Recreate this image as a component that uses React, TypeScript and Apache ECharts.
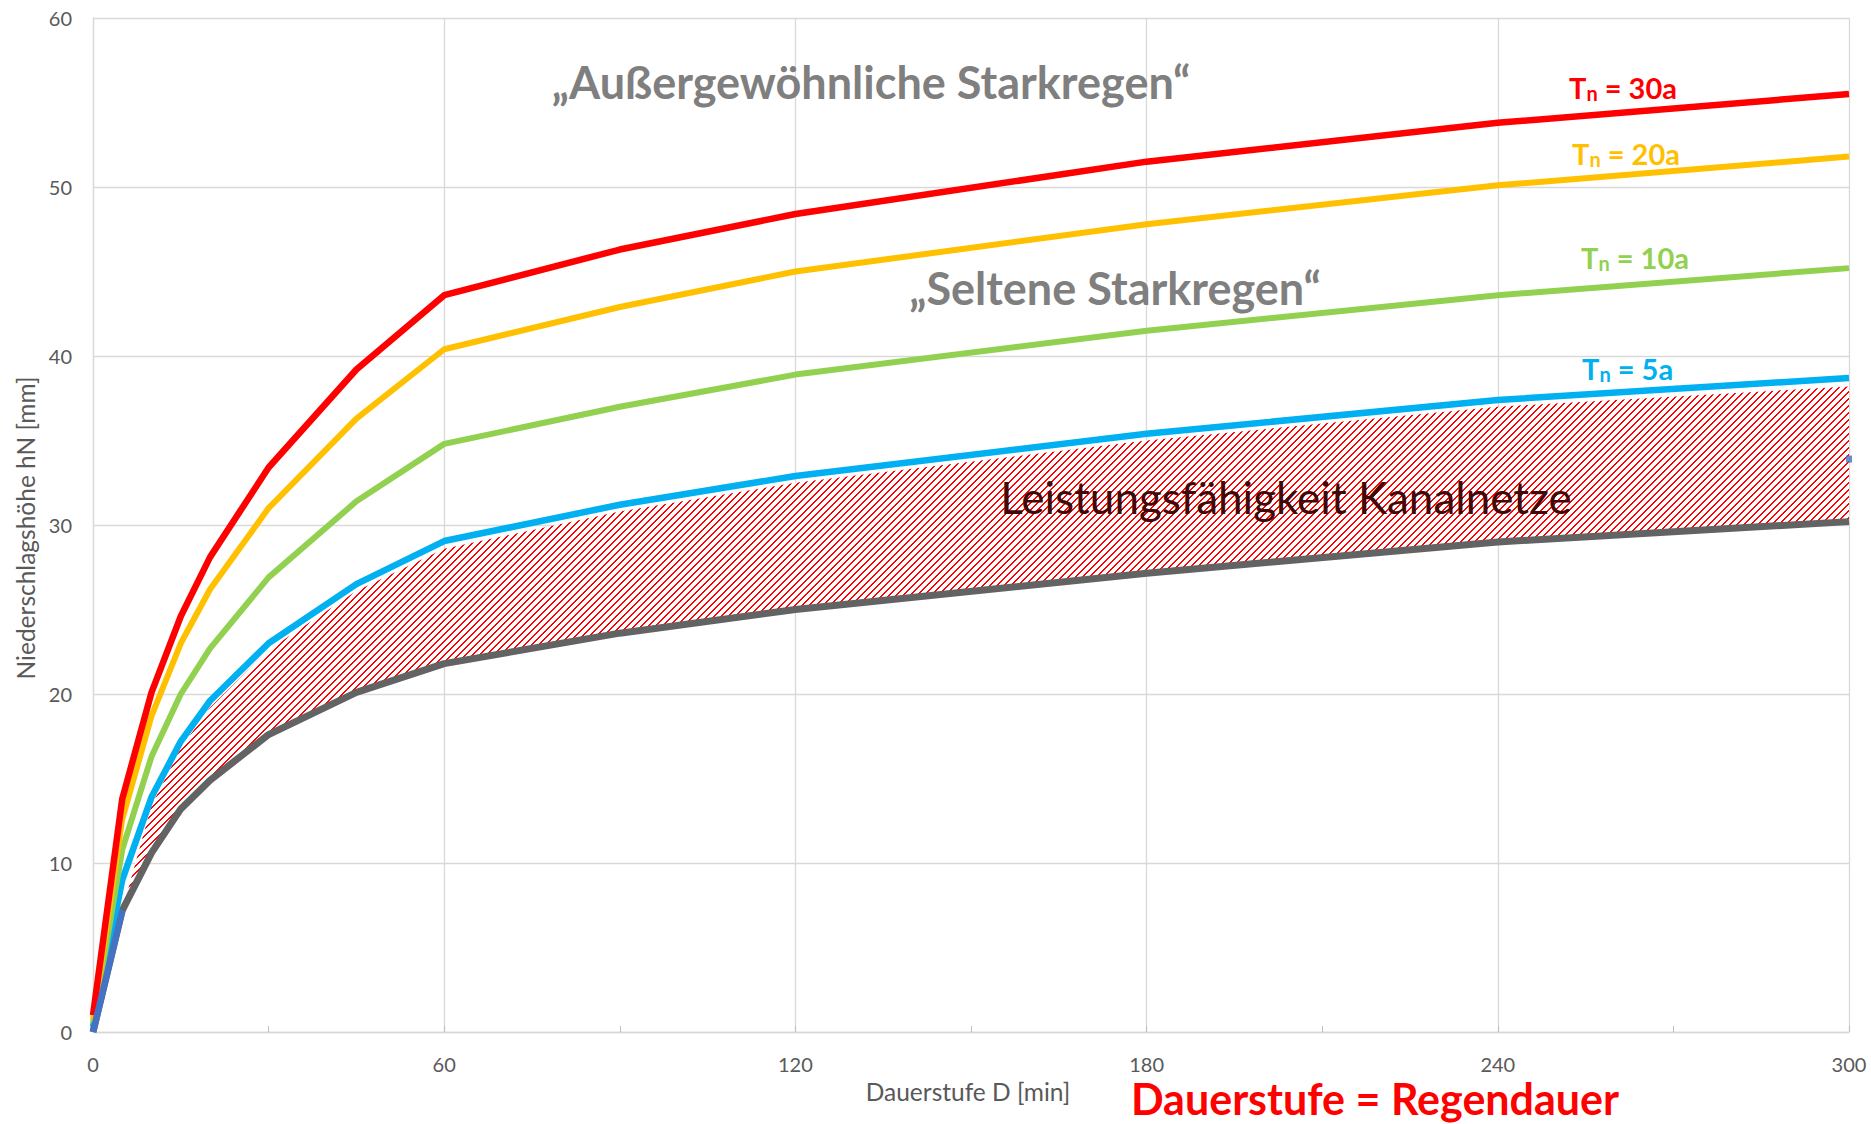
import React, { useEffect, useRef } from 'react';
import * as echarts from 'echarts';

// Dauerstufe D [min]
const durations = [0, 5, 10, 15, 20, 30, 45, 60, 90, 120, 180, 240, 300];
// Niederschlagshöhe hN [mm] per Wiederkehrzeit
const tn30 = [1.0, 13.8, 20.1, 24.6, 28.1, 33.4, 39.2, 43.6, 46.3, 48.4, 51.5, 53.8, 55.5];
const tn20 = [0.7, 12.6, 18.7, 23.0, 26.2, 31.0, 36.3, 40.4, 42.9, 45.0, 47.8, 50.1, 51.8];
const tn10 = [0.5, 10.8, 16.3, 20.0, 22.7, 26.9, 31.4, 34.8, 37.0, 38.9, 41.5, 43.6, 45.2];
const tn5 = [0.3, 9.0, 13.9, 17.2, 19.6, 23.0, 26.5, 29.05, 31.2, 32.9, 35.4, 37.4, 38.7];
// Leistungsfähigkeit Kanalnetze (untere Grenze)
const kanalnetz = [0, 7.2, 10.6, 13.2, 14.9, 17.6, 20.1, 21.8, 23.6, 25.0, 27.15, 29.0, 30.2];
// Schraffur: Dauerstufen und obere Kante (ab D = 5 min)
const hatchDurations = [5, 10, 15, 20, 30, 45, 60, 90, 120, 180, 240, 300];
const hatchTop = [7.2, 13.4, 16.8, 19.2, 22.6, 26.1, 28.6, 30.8, 32.5, 35.0, 37.0, 38.2];
// Anfangssegment (dunkelblau)
const startDurations = [0, 5];
const startValues = [0, 7.2];
// Einzelner Markerpunkt am rechten Rand
const markerDurations = [300];
const markerValues = [33.9];

const xMin = 0, xMax = 300, xInterval = 60;
const yMin = 0, yMax = 60, yInterval = 10;

const FONT = 'Lato';

function pairs(xs: number[], ys: number[]) {
  return xs.map((x, i) => [x, ys[i]]);
}

function makeHatch() {
  const s = 7;
  const c = document.createElement('canvas');
  c.width = s;
  c.height = s;
  const ctx = c.getContext('2d')!;
  ctx.fillStyle = '#ffffff';
  ctx.fillRect(0, 0, s, s);
  ctx.fillStyle = '#ff0000';
  for (let i = 0; i < s; i++) {
    ctx.fillRect(i, s - 1 - i, 1, 1);
    ctx.fillRect(i, (s - i) % s, 1, 1);
  }
  return { image: c, repeat: 'repeat', imageWidth: s, imageHeight: s };
}

function tnLabel(id: string, x: number, y: number, value: string, color: string) {
  const main = { fontSize: 29, fontWeight: 'bold', fontFamily: FONT, fill: color };
  const sub = { fontSize: 20, fontWeight: 'bold', fontFamily: FONT, fill: color, padding: [12, 0, 0, 0] };
  return {
    type: 'text',
    id,
    x,
    y,
    z: 100,
    style: {
      text: '{m|T}{s|n}{m| = ' + value + '}',
      rich: { m: main, s: sub },
      align: 'left',
      verticalAlign: 'middle',
      textAlign: 'left',
      textVerticalAlign: 'middle',
    },
  };
}

function bigText(id: string, x: number, y: number, text: string, size: number, weight: string, color: string, lineHeight?: number) {
  const style: any = {
    text,
    fontSize: size,
    fontWeight: weight,
    fontFamily: FONT,
    fill: color,
    align: 'center',
    verticalAlign: 'middle',
    textAlign: 'center',
    textVerticalAlign: 'middle',
  };
  if (lineHeight) style.lineHeight = lineHeight;
  return { type: 'text', id, x, y, z: 100, style };
}

export default function App() {
  const ref = useRef<HTMLDivElement>(null);
  useEffect(() => {
    if (!ref.current) return;
    const chart = echarts.init(ref.current, null, { renderer: 'svg' });
    const hatch = makeHatch();
    const bandBase = hatchDurations.map((d) => kanalnetz[durations.indexOf(d)]);

    const lineSeries = (name: string, ys: number[], color: string, width: number) => ({
      type: 'line',
      name,
      data: pairs(durations, ys),
      symbol: 'none',
      lineStyle: { color, width, cap: 'butt', join: 'round' },
      itemStyle: { color },
      silent: true,
    });

    chart.setOption({
      animation: false,
      backgroundColor: '#ffffff',
      grid: { left: 93, right: 22, top: 18, bottom: 92 },
      xAxis: {
        type: 'value',
        min: xMin,
        max: xMax,
        interval: xInterval,
        name: 'Dauerstufe D [min]',
        nameLocation: 'middle',
        nameGap: 46,
        nameTextStyle: { fontFamily: FONT, fontSize: 24.5, color: '#595959', padding: [0, 6, 0, 0] },
        axisLine: { show: true, lineStyle: { color: '#d9d9d9', width: 1.3 } },
        axisTick: { show: true, inside: true, length: 6, lineStyle: { color: '#bfbfbf' } },
        minorTick: { show: true, splitNumber: 2, length: 6, lineStyle: { color: '#bfbfbf' } },
        axisLabel: { fontFamily: FONT, fontSize: 20, color: '#595959', margin: 24, lineHeight: 16 },
        splitLine: { show: true, lineStyle: { color: '#d9d9d9', width: 1.3 } },
      },
      yAxis: {
        type: 'value',
        min: yMin,
        max: yMax,
        interval: yInterval,
        name: 'Niederschlagshöhe hN [mm]',
        nameLocation: 'middle',
        nameGap: 55,
        nameTextStyle: { fontFamily: FONT, fontSize: 24.5, color: '#595959', padding: [0, 6, 0, 0] },
        axisLine: { show: true, lineStyle: { color: '#d9d9d9', width: 1.3 } },
        axisTick: { show: false },
        axisLabel: { fontFamily: FONT, fontSize: 20, color: '#595959', margin: 21 },
        splitLine: { show: true, lineStyle: { color: '#d9d9d9', width: 1.3 } },
      },
      series: [
        {
          type: 'custom',
          name: 'Leistungsfähigkeit Kanalnetze',
          data: hatchDurations.map((d, i) => [d, bandBase[i], hatchTop[i]]),
          encode: { x: 0, y: [1, 2] },
          silent: true,
          renderItem: (params: any, api: any) => {
            if (params.dataIndex !== 0) return { type: 'group', children: [] };
            const top = hatchDurations.map((d, i) => api.coord([d, hatchTop[i]]));
            const bottom = hatchDurations.map((d, i) => api.coord([d, bandBase[i]])).reverse();
            return {
              type: 'polygon',
              shape: { points: top.concat(bottom) },
              style: { fill: hatch, stroke: null },
              silent: true,
            };
          },
        },
        lineSeries('Kanalnetz', kanalnetz, '#636363', 7),
        lineSeries('Tn = 5a', tn5, '#00B0F0', 6.5),
        lineSeries('Tn = 10a', tn10, '#92D050', 6),
        lineSeries('Tn = 20a', tn20, '#FFC000', 6),
        lineSeries('Tn = 30a', tn30, '#FF0000', 6.5),
        {
          type: 'line',
          name: 'Start',
          data: pairs(startDurations, startValues),
          symbol: 'none',
          lineStyle: { color: '#4472C4', width: 6.5, cap: 'butt' },
          silent: true,
        },
        {
          type: 'scatter',
          name: 'Marker',
          data: pairs(markerDurations, markerValues),
          symbol: 'rect',
          symbolSize: [6, 7],
          itemStyle: { color: '#4472C4' },
          silent: true,
        },
      ],
      graphic: [
        bigText('t1', 871, 82, '„Außergewöhnliche Starkregen“', 45, 'bold', '#7f7f7f'),
        bigText('t2', 1115, 288, '„Seltene Starkregen“', 45, 'bold', '#7f7f7f'),
        bigText('t3', 1286, 497, 'Leistungsfähigkeit Kanalnetze', 44, 'normal', '#400a0a'),
        bigText('t4', 1375, 1098, 'Dauerstufe = Regendauer', 43, 'bold', '#ff0000', 32),
        tnLabel('l30', 1569, 87, '30a', '#FF0000'),
        tnLabel('l20', 1572, 153, '20a', '#FFC000'),
        tnLabel('l10', 1581, 257, '10a', '#92D050'),
        tnLabel('l5', 1582, 368, '5a', '#00B0F0'),
      ],
    });
    return () => chart.dispose();
  }, []);
  return (
    <div
      ref={ref}
      style={{ position: 'fixed', left: 0, top: 0, width: 1871, height: 1124, background: '#fff' }}
    />
  );
}
